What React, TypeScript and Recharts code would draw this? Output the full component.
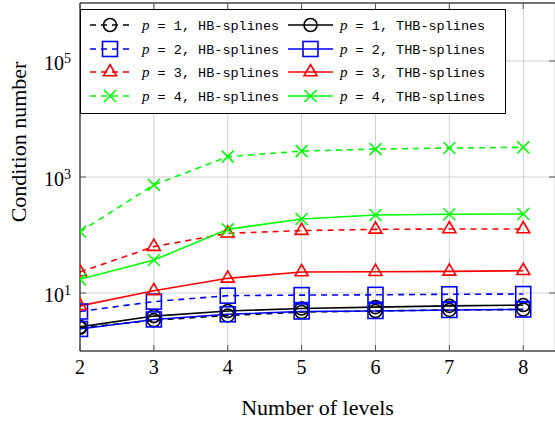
import React from "react"
import {
  CartesianGrid,
  Legend,
  Line,
  LineChart,
  ReferenceLine,
  XAxis,
  YAxis,
} from "recharts"

// levels on the x axis
const levels = [2, 3, 4, 5, 6, 7, 8]

// condition numbers (log axis)
const hb1 = [2.5, 3.4, 4.1, 4.7, 4.9, 5.1, 5.2]
const thb1 = [2.6, 4.0, 4.9, 5.4, 5.7, 6.0, 6.2]
const hb2 = [4.8, 7.1, 9.0, 9.2, 9.3, 9.5, 9.6]
const thb2 = [2.4, 3.5, 4.3, 4.8, 4.9, 5.1, 5.2]
const hb3 = [23, 63, 107, 119, 125, 127, 127]
const thb3 = [6.0, 10.9, 17.9, 23, 23.3, 23.6, 24.2]
const hb4 = [114, 730, 2240, 2800, 3030, 3160, 3250]
const thb4 = [17.2, 37, 125, 189, 221, 228, 230]

const yTicks = [10, 1000, 100000]

type Shape = "circle" | "square" | "triangle" | "cross"

const series: {
  key: string
  values: number[]
  p: number
  kind: string
  color: string
  shape: Shape
  dashed: boolean
}[] = [
  { key: "hb1", values: hb1, p: 1, kind: "HB-splines", color: "#000000", shape: "circle", dashed: true },
  { key: "thb1", values: thb1, p: 1, kind: "THB-splines", color: "#000000", shape: "circle", dashed: false },
  { key: "hb2", values: hb2, p: 2, kind: "HB-splines", color: "#0000ff", shape: "square", dashed: true },
  { key: "thb2", values: thb2, p: 2, kind: "THB-splines", color: "#0000ff", shape: "square", dashed: false },
  { key: "hb3", values: hb3, p: 3, kind: "HB-splines", color: "#ff0000", shape: "triangle", dashed: true },
  { key: "thb3", values: thb3, p: 3, kind: "THB-splines", color: "#ff0000", shape: "triangle", dashed: false },
  { key: "hb4", values: hb4, p: 4, kind: "HB-splines", color: "#00ff00", shape: "cross", dashed: true },
  { key: "thb4", values: thb4, p: 4, kind: "THB-splines", color: "#00ff00", shape: "cross", dashed: false },
]

const data = levels.map((level, i) => {
  const row: Record<string, number> = { level }
  series.forEach((s) => (row[s.key] = s.values[i]))
  return row
})

const SERIF = "'Liberation Serif', 'DejaVu Serif', serif"
const MONO = "'Liberation Mono', 'DejaVu Sans Mono', monospace"
const DASH = "6 5"
const LW = 1.6

function Marker({ shape, cx, cy, color }: { shape: Shape; cx: number; cy: number; color: string }) {
  const common = { fill: "none", stroke: color, strokeWidth: LW }
  if (shape === "circle") return <circle cx={cx} cy={cy} r={6.5} {...common} />
  if (shape === "square")
    return <rect x={cx - 7.5} y={cy - 7.5} width={15} height={15} {...common} />
  if (shape === "triangle") {
    const pts = `${cx},${cy - 7.5} ${cx + 6.5},${cy + 3.75} ${cx - 6.5},${cy + 3.75}`
    return <polygon points={pts} {...common} strokeLinejoin="miter" />
  }
  const d = `M${cx - 6} ${cy - 6}L${cx + 6} ${cy + 6}M${cx - 6} ${cy + 6}L${cx + 6} ${cy - 6}`
  return <path d={d} {...common} />
}

function XTick(props: any) {
  const { x, y, payload } = props
  return (
    <g>
      <line x1={x} x2={x} y1={y} y2={y - 6} stroke="#555" />
      <line x1={x} x2={x} y1={3} y2={9} stroke="#555" />
      <text x={x} y={y + 23} textAnchor="middle" fontFamily={SERIF} fontSize={20} fill="#000">
        {payload.value}
      </text>
    </g>
  )
}

function YTick(props: any) {
  const { x, y, payload } = props
  const exp = Math.round(Math.log10(payload.value))
  return (
    <g>
      <line x1={x} x2={x + 6} y1={y} y2={y} stroke="#555" />
      <line x1={549} x2={555} y1={y} y2={y} stroke="#555" />
      <text x={x - 9} y={y + 9} textAnchor="end" fontFamily={SERIF} fontSize={20} fill="#000">
        10
        <tspan dy={-7} fontSize={14}>
          {exp}
        </tspan>
      </text>
    </g>
  )
}

function renderLegend() {
  const rowY = [16, 40, 63, 87]
  return (
    <svg width={426} height={105} style={{ display: "block" }}>
      <rect x={0.5} y={0.5} width={425} height={104} fill="#fff" stroke="#000" strokeWidth={1} />
      {series.map((s, i) => {
        const row = Math.floor(i / 2)
        const col = i % 2
        const y = rowY[row]
        const x0 = col === 0 ? 10 : 208
        const x1 = col === 0 ? 50 : 253
        const tx = col === 0 ? 62 : 260
        return (
          <g key={s.key}>
            <line
              x1={x0}
              x2={x1}
              y1={y}
              y2={y}
              stroke={s.color}
              strokeWidth={LW}
              strokeDasharray={s.dashed ? DASH : undefined}
            />
            <Marker shape={s.shape} cx={(x0 + x1) / 2} cy={y} color={s.color} />
            <text x={tx} y={y + 5} fontFamily={MONO} fontSize={13.5} fill="#000">
              <tspan fontFamily={SERIF} fontStyle="italic" fontSize={15}>
                p
              </tspan>
              {` = ${s.p}, ${s.kind}`}
            </text>
          </g>
        )
      })}
    </svg>
  )
}

export default function App() {
  return (
    <div style={{ position: "absolute", left: 0, top: 0, width: 555, height: 423, background: "#fff" }}>
      <LineChart width={555} height={423} data={data} margin={{ top: 3, right: 0, bottom: 0, left: 0 }}>
        <CartesianGrid stroke="#d0d0d0" strokeWidth={1} />
        <XAxis
          dataKey="level"
          type="number"
          domain={[2, 8.43]}
          ticks={levels}
          allowDataOverflow
          height={72}
          tickSize={0}
          tickMargin={0}
          tickLine={false}
          axisLine={{ stroke: "#000", strokeWidth: 1 }}
          tick={<XTick />}
          label={({ viewBox }: any) => (
            <text
              x={viewBox.x + viewBox.width / 2}
              y={viewBox.y + 64}
              textAnchor="middle"
              fontFamily={SERIF}
              fontSize={22}
              fill="#000"
            >
              Number of levels
            </text>
          )}
        />
        <YAxis
          type="number"
          scale="log"
          domain={[1, 1e6]}
          ticks={yTicks}
          allowDataOverflow
          width={80}
          tickSize={0}
          tickMargin={0}
          tickLine={false}
          axisLine={{ stroke: "#000", strokeWidth: 1 }}
          tick={<YTick />}
          label={() => (
            <text
              x={18}
              y={142}
              transform="rotate(-90 18 142)"
              textAnchor="middle"
              dominantBaseline="central"
              fontFamily={SERIF}
              fontSize={22}
              fill="#000"
            >
              Condition number
            </text>
          )}
        />
        <ReferenceLine y={1e6} stroke="#000" strokeWidth={1} ifOverflow="visible" />
        {series.map((s) => (
          <Line
            key={s.key}
            dataKey={s.key}
            stroke={s.color}
            strokeWidth={LW}
            strokeDasharray={s.dashed ? DASH : undefined}
            isAnimationActive={false}
            dot={(props: any) => (
              <Marker
                key={`${s.key}-${props.index}`}
                shape={s.shape}
                cx={props.cx}
                cy={props.cy}
                color={s.color}
              />
            )}
            activeDot={false}
          />
        ))}
        <Legend
          layout="horizontal"
          verticalAlign="middle"
          align="center"
          content={renderLegend}
          wrapperStyle={{ top: 9, left: 80, width: 426, height: 105 }}
        />
      </LineChart>
    </div>
  )
}
